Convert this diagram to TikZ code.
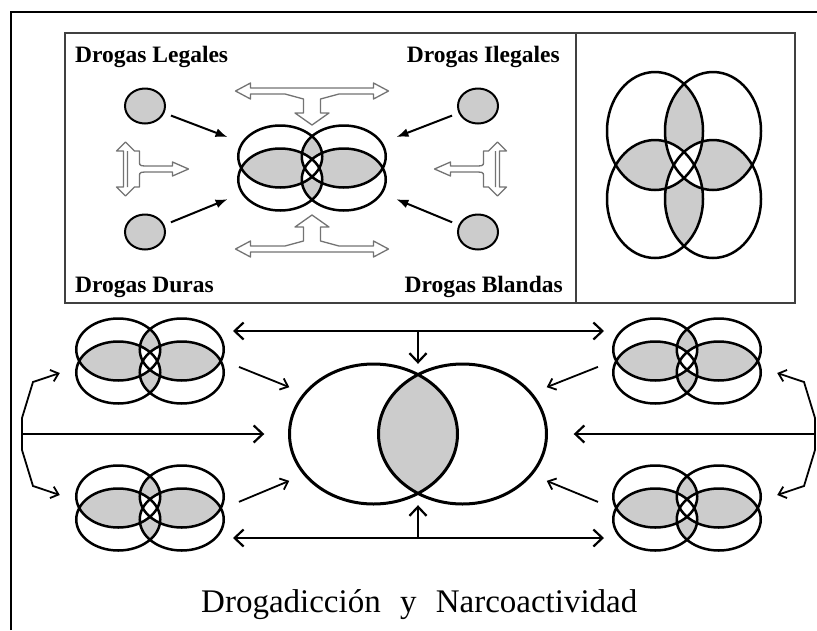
\documentclass[tikz,border=0pt]{standalone}
\usepackage{fontspec}
\setmainfont{Liberation Serif}
\usepackage{tikz}
\usetikzlibrary{arrows.meta,shapes.geometric}

\tikzset{
  ring/.style={line width=2.5pt},
  lens/.style={fill=black!20},
  spot/.style={draw, ellipse, fill=black!20, line width=2pt, minimum width=40pt, minimum height=35pt, inner sep=0pt},
  hold/.style={inner sep=0pt, minimum width=148pt, minimum height=85pt},
  hollow/.style={draw=black!55, fill=white, line width=1.3pt, line join=round},
  tag/.style={font=\fontsize{23.5}{28}\selectfont\bfseries, inner sep=0pt},
  push/.style={line width=2pt, -{Latex[length=12pt,width=9pt]}, shorten <=7pt, shorten >=11pt},
  link/.style={line width=2.2pt, >={Straight Barb[length=9pt,width=17pt]}},
  slim/.style={line width=1.8pt, >={Straight Barb[length=7pt,width=12pt]}}
}

% four overlapping ellipses: x radius, y radius, x offset, y offset
\newcommand{\petals}[4]{%
  \def\pa{(-#3/2,-#4/2) ellipse [x radius=#1, y radius=#2]}
  \def\pb{(#3/2,-#4/2) ellipse [x radius=#1, y radius=#2]}
  \def\pc{(-#3/2,#4/2) ellipse [x radius=#1, y radius=#2]}
  \def\pd{(#3/2,#4/2) ellipse [x radius=#1, y radius=#2]}
  \begin{scope} \clip \pa; \fill[lens] \pb; \fill[lens] \pc; \end{scope}
  \begin{scope} \clip \pd; \fill[lens] \pb; \fill[lens] \pc; \end{scope}
  \begin{scope} \clip \pa; \clip \pb; \fill[white] \pc; \fill[white] \pd; \end{scope}
  \begin{scope} \clip \pc; \clip \pd; \fill[white] \pa; \fill[white] \pb; \end{scope}
  \draw[ring] \pa \pb \pc \pd;
}

\begin{document}
\begin{tikzpicture}[x=1pt, y=-1pt]
\useasboundingbox (0,0) rectangle (817,630);

% frames
\draw[line width=2.5pt] (11,630) -- (11,12) -- (817,12);
\draw[line width=2pt, black!75] (65,33) rectangle (795,303);
\draw[line width=2pt, black!75] (576,33) -- (576,303);

% upper box
\node[tag, anchor=base west] (tlegal) at (75,62) {Drogas Legales};
\node[tag, anchor=base east] (tilegal) at (560,62) {Drogas Ilegales};
\node[tag, anchor=base west] (tdura) at (75,292) {Drogas Duras};
\node[tag, anchor=base east] (tblanda) at (563,292) {Drogas Blandas};

\node[spot] (legal) at (145,106) {};
\node[spot] (dura) at (145,232) {};
\node[spot] (ilegal) at (478,106) {};
\node[spot] (blanda) at (478,232) {};

\node[hold] (mix) at (312,168) {};
\begin{scope}[shift={(mix)}] \petals{42}{31}{63.5}{23} \end{scope}

\draw[push] (legal.-20) -- (mix.160);
\draw[push] (dura.20) -- (mix.200);
\draw[push] (ilegal.200) -- (mix.20);
\draw[push] (blanda.160) -- (mix.-20);

\def\tee{(-76.5,0) -- (-61.5,-8) -- (-61.5,-3) -- (61.5,-3) -- (61.5,-8) -- (76.5,0)
  -- (61.5,8) -- (61.5,3) -- (27,3) -- (8.5,8) -- (8.5,22) -- (17,22) -- (0,34)
  -- (-17,22) -- (-8.5,22) -- (-8.5,8) -- (-27,3) -- (-61.5,3) -- (-61.5,8) -- cycle}
\def\fork{(0,-27) -- (9,-18) -- (14,-18) -- (14,-7) .. controls (14,-3) .. (26,-3)
  -- (47,-3) -- (47,-7) -- (63,0) -- (47,7) -- (47,3) -- (26,3) .. controls (14,3) .. (14,7)
  -- (14,18) -- (9,18) -- (0,27) -- (-9,18) -- (-2,18) -- (-2,-18) -- (-9,-18) -- cycle
  (2,-18) -- (2,18)}
\draw[hollow, shift={(312,91)}] \tee;
\draw[hollow, shift={(312,249)}, yscale=-1] \tee;
\draw[hollow, shift={(125.5,169)}] \fork;
\draw[hollow, shift={(497.5,169)}, xscale=-1] \fork;

% flower
\node[hold, minimum width=155pt, minimum height=187pt] (flor) at (684,165) {};
\begin{scope}[shift={(flor)}] \petals{48}{59}{58}{68} \end{scope}

% lower part
\node[hold] (m1) at (150,361) {};
\node[hold] (m2) at (150,508) {};
\node[hold] (m3) at (687,361) {};
\node[hold] (m4) at (687,508) {};
\foreach \m in {m1,m2,m3,m4}
{
  \begin{scope}[shift={(\m)}] \petals{42}{31}{63.5}{23} \end{scope}
}

\node[inner sep=0pt, minimum width=257pt, minimum height=140pt] (venn) at (418,434) {};
\begin{scope}[shift={(venn)}]
  \begin{scope}
    \clip (-44.5,0) ellipse [x radius=84, y radius=70];
    \fill[lens] (44.5,0) ellipse [x radius=84, y radius=70];
  \end{scope}
  \draw[line width=3pt] (-44.5,0) ellipse [x radius=84, y radius=70]
    (44.5,0) ellipse [x radius=84, y radius=70];
\end{scope}

\coordinate (lhub) at (22,434);
\coordinate (rhub) at (815,434);
\coordinate (tl) at (233,331);
\coordinate (tm) at (418,331);
\coordinate (tr) at (604,331);
\coordinate (bl) at (233,538);
\coordinate (bm) at (418,538);
\coordinate (br) at (604,538);

\draw[link, <->] (tl) -- (tr);
\draw[link, ->] (tm) -- (venn.north);
\draw[link, <->] (bl) -- (br);
\draw[link, ->, shorten >=1pt] (bm) -- (venn.south);
\draw[link, ->, shorten >=25pt] (lhub) -- (venn.west);
\draw[link, ->, shorten >=27pt] (rhub) -- (venn.east);

\draw[slim, ->, shorten <=16pt] (m1.east) -- (venn.160);
\draw[slim, ->, shorten <=16pt] (m2.east) -- (venn.200);
\draw[slim, ->, shorten <=16pt] (m3.west) -- (venn.20);
\draw[slim, ->, shorten <=16pt] (m4.west) -- (venn.-20);

\draw[slim, ->] (lhub) -- ++(0,-16) -- ++(11,-36) -- ([shift={(-16,12)}]m1.west);
\draw[slim, ->] (lhub) -- ++(0,16) -- ++(11,36) -- ([shift={(-16,-13)}]m2.west);
\draw[slim, ->] (rhub) -- ++(0,-16) -- ++(-11,-36) -- ([shift={(16,12)}]m3.east);
\draw[slim, ->] (rhub) -- ++(0,16) -- ++(-11,36) -- ([shift={(16,-13)}]m4.east);

\node[font=\fontsize{33}{40}\selectfont, anchor=base west, inner sep=0pt] (title) at (201,612)
  {Drogadicción\hspace{11pt} y\hspace{11pt} Narcoactividad};
\end{tikzpicture}
\end{document}
